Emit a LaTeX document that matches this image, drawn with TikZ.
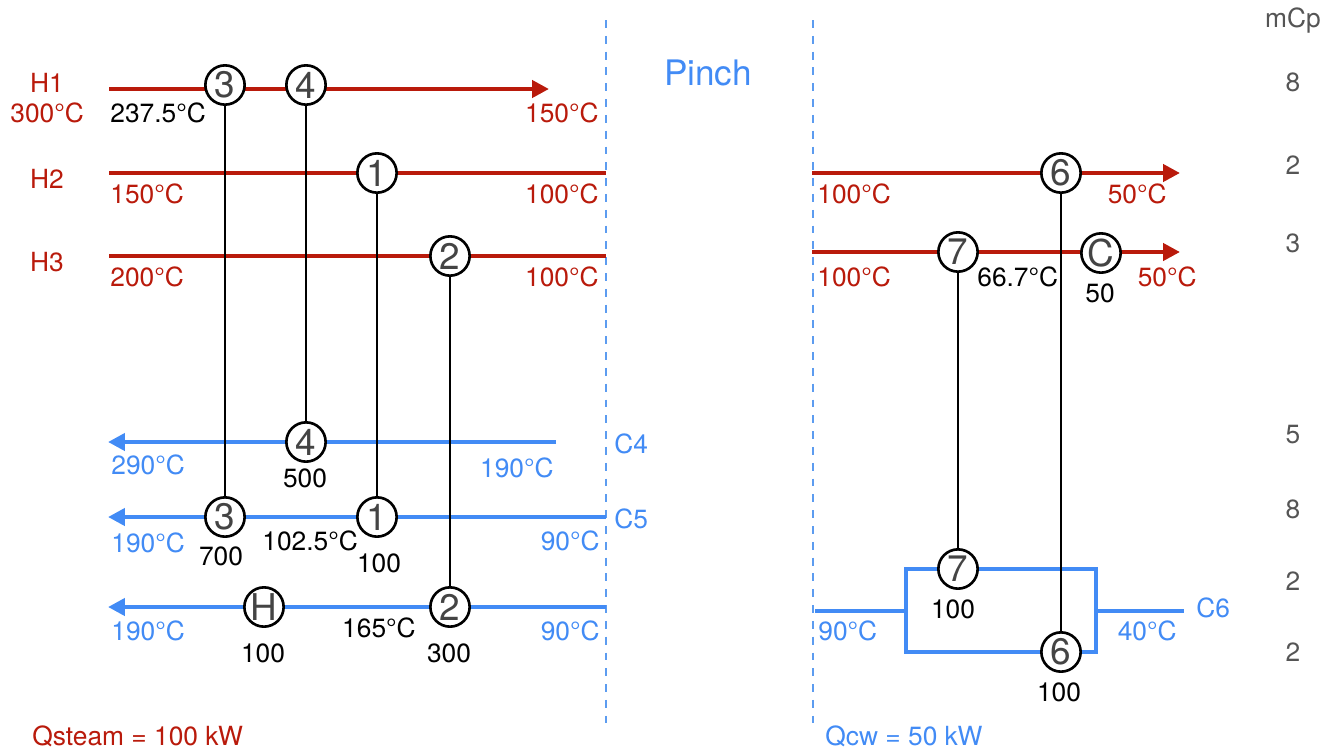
\documentclass[tikz,border=0pt]{standalone}
\usepackage{fontspec}
\setmainfont{TeX Gyre Heros}
\usetikzlibrary{arrows.meta}
\definecolor{hotred}{HTML}{B91A0B}
\definecolor{coldblue}{HTML}{428BF5}
\definecolor{pinchblue}{HTML}{5C9CF0}
\definecolor{hxgray}{HTML}{444444}
\definecolor{mcpgray}{HTML}{555555}

\begin{document}
\begin{tikzpicture}[x=0.02cm,y=-0.02cm,
  hot/.style={hotred,line width=2.4pt},
  cold/.style={coldblue,line width=2.4pt},
  flow/.style={-{Triangle[length=9.6pt,width=9.6pt]}},
  pinch/.style={pinchblue,line width=0.9pt,dash pattern=on 4.5pt off 4.5pt},
  hx/.style={circle,draw=black,line width=1.5pt,fill=white,minimum size=0.786cm,
    inner sep=0pt,text=hxgray,font=\fontsize{21}{24}\selectfont},
  link/.style={black,line width=1.35pt},
  txt/.style={inner sep=0pt,font=\fontsize{15}{18}\selectfont},
  hottxt/.style={txt,text=hotred},
  coldtxt/.style={txt,text=coldblue},
  duty/.style={txt,text=black}]
\useasboundingbox (0,0) rectangle (1335,751);

% pinch
\coordinate (pl1) at (606,20);  \coordinate (pl2) at (606,723);
\coordinate (pr1) at (813,20);  \coordinate (pr2) at (813,723);
\draw[pinch] (pl1) -- (pl2);
\draw[pinch] (pr1) -- (pr2);
\node[txt,text=coldblue,font=\fontsize{20}{24}\selectfont,anchor=base] (pinchlbl) at (708,85) {Pinch};

% hot streams
\coordinate (h1s) at (109,89);  \coordinate (h1e) at (549,89);
\coordinate (h2s) at (109,173); \coordinate (h2e) at (606,173);
\coordinate (h3s) at (109,256); \coordinate (h3e) at (606,256);
\coordinate (h2rs) at (812,173); \coordinate (h2re) at (1180,173);
\coordinate (h3rs) at (812,252); \coordinate (h3re) at (1180,252);
\draw[hot,flow] (h1s) -- (h1e);
\draw[hot] (h2s) -- (h2e);
\draw[hot] (h3s) -- (h3e);
\draw[hot,flow] (h2rs) -- (h2re);
\draw[hot,flow] (h3rs) -- (h3re);

% cold streams
\coordinate (c4s) at (556,442); \coordinate (c4e) at (108,442);
\coordinate (c5s) at (606,517); \coordinate (c5e) at (108,517);
\coordinate (c3s) at (606,607); \coordinate (c3e) at (108,607);
\draw[cold,flow] (c4s) -- (c4e);
\draw[cold,flow] (c5s) -- (c5e);
\draw[cold,flow] (c3s) -- (c3e);
\coordinate (c6s) at (815,611); \coordinate (c6e) at (1184,611);
\coordinate (bx1) at (906,569); \coordinate (bx2) at (1096,652);
\draw[cold] (c6s) -- (906,611);
\draw[cold] (bx1) rectangle (bx2);
\draw[cold] (1096,611) -- (c6e);

% exchangers
\node[hx] (e3h) at (225,85) {3};
\node[hx] (e4h) at (306,85) {4};
\node[hx] (e1h) at (377,173) {1};
\node[hx] (e2h) at (450,256) {2};
\node[hx] (e6h) at (1061,173) {6};
\node[hx] (e7h) at (958,252) {7};
\node[hx] (clr) at (1101,253) {C};
\node[hx] (e4c) at (306,442) {4};
\node[hx] (e3c) at (225,517) {3};
\node[hx] (e1c) at (377,517) {1};
\node[hx] (htr) at (264,607) {H};
\node[hx] (e2c) at (450,607) {2};
\node[hx] (e7c) at (958,569) {7};
\node[hx] (e6c) at (1061,652) {6};
\foreach \a/\b in {e3h/e3c, e4h/e4c, e1h/e1c, e2h/e2c, e6h/e6c, e7h/e7c}
  \draw[link] (\a) -- (\b);

% hot labels
\node[hottxt,anchor=base] (lh1) at (47,92) {H1};
\node[hottxt,anchor=base] (lh2) at (47,188) {H2};
\node[hottxt,anchor=base] (lh3) at (47,271) {H3};
\node[hottxt,anchor=base west] (th1a) at (10,122) {300°C};
\node[hottxt,anchor=base east] (th1b) at (599,122) {150°C};
\node[hottxt,anchor=base west] (th2a) at (110,203) {150°C};
\node[hottxt,anchor=base east] (th2b) at (599,203) {100°C};
\node[hottxt,anchor=base west] (th3a) at (110,286) {200°C};
\node[hottxt,anchor=base east] (th3b) at (599,286) {100°C};
\node[hottxt,anchor=base west] (th2c) at (817,203) {100°C};
\node[hottxt,anchor=base east] (th2d) at (1167,203) {50°C};
\node[hottxt,anchor=base west] (th3c) at (817,286) {100°C};
\node[hottxt,anchor=base east] (th3d) at (1197,286) {50°C};
\node[hottxt,anchor=base west] (qst) at (32,745) {Qsteam = 100 kW};

% cold labels
\node[coldtxt,anchor=base west] (lc4) at (614,453) {C4};
\node[coldtxt,anchor=base west] (lc5) at (614,528) {C5};
\node[coldtxt,anchor=base west] (lc6) at (1196,617) {C6};
\node[coldtxt,anchor=base west] (tc4a) at (111,474) {290°C};
\node[coldtxt,anchor=base east] (tc4b) at (554,477) {190°C};
\node[coldtxt,anchor=base west] (tc5a) at (111,552) {190°C};
\node[coldtxt,anchor=base east] (tc5b) at (600,550) {90°C};
\node[coldtxt,anchor=base west] (tc3a) at (111,640) {190°C};
\node[coldtxt,anchor=base east] (tc3b) at (600,640) {90°C};
\node[coldtxt,anchor=base west] (tc6a) at (818,640) {90°C};
\node[coldtxt,anchor=base east] (tc6b) at (1177,640) {40°C};
\node[coldtxt,anchor=base west] (qcw) at (825,745) {Qcw = 50 kW};

% duties and intermediate temperatures
\node[duty,anchor=base west] (ti1) at (110,122) {237.5°C};
\node[duty,anchor=base west] (ti2) at (977,286) {66.7°C};
\node[duty,anchor=base west] (ti3) at (262,550) {102.5°C};
\node[duty,anchor=base] (ti4) at (379,637) {165°C};
\node[duty,anchor=base] (qclr) at (1100,302) {50};
\node[duty,anchor=base] (q4) at (305,487) {500};
\node[duty,anchor=base] (q3) at (221,565) {700};
\node[duty,anchor=base] (q1) at (379,572) {100};
\node[duty,anchor=base] (qhtr) at (263,662) {100};
\node[duty,anchor=base] (q2) at (449,662) {300};
\node[duty,anchor=base] (q7) at (953,618) {100};
\node[duty,anchor=base] (q6) at (1059,701) {100};

% mCp column
\node[txt,text=mcpgray,anchor=base] (mcp) at (1293,27) {mCp};
\foreach \v/\y in {8/91, 2/174, 3/252, 5/443, 8/518, 2/590, 2/661}
  \node[txt,text=mcpgray,anchor=base] (m\y) at (1293,\y) {\v};
\end{tikzpicture}
\end{document}
